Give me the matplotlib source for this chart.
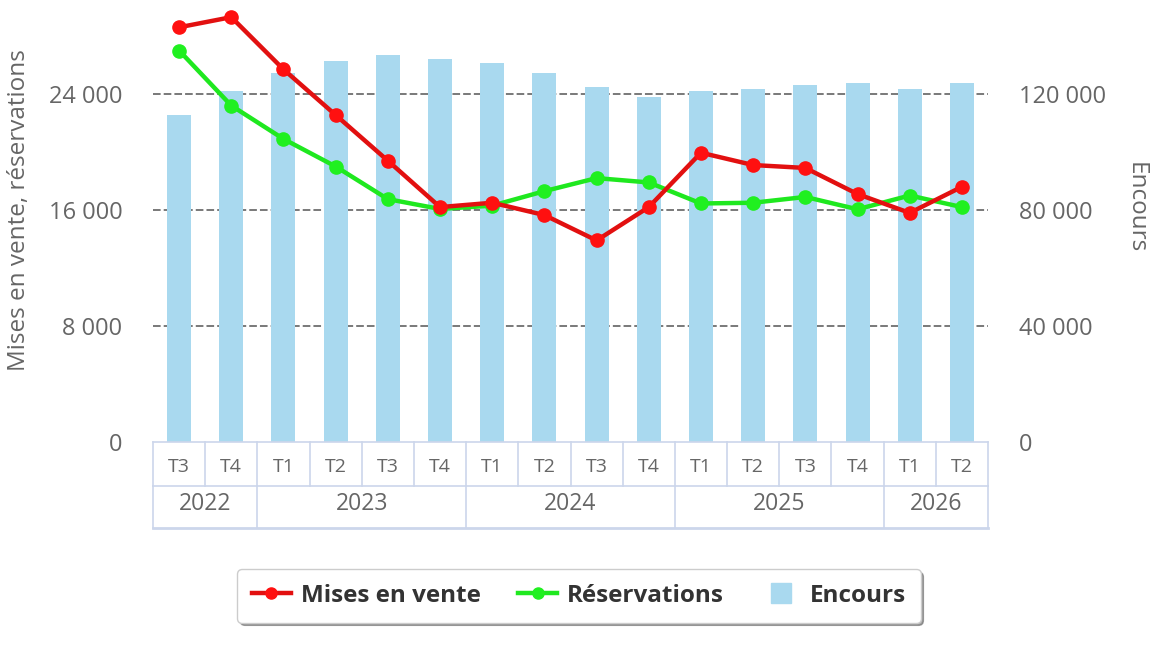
import matplotlib.pyplot as plt
from matplotlib.lines import Line2D
from matplotlib.ticker import FuncFormatter

plt.rcParams['font.family'] = ['Open Sans', 'DejaVu Sans']

quarters = ["T3", "T4", "T1", "T2", "T3", "T4", "T1", "T2", "T3", "T4",
            "T1", "T2", "T3", "T4", "T1", "T2"]
years = ["2022", "2023", "2024", "2025", "2026"]
year_sizes = [2, 4, 4, 4, 2]

mises_en_vente = [28600, 29300, 25700, 22550, 19400, 16200, 16500, 15650,
                  13900, 16200, 19950, 19100, 18900, 17100, 15800, 17600]
reservations = [27000, 23200, 20900, 19000, 16750, 16070, 16300, 17300,
                18200, 17900, 16450, 16500, 16900, 16050, 17000, 16200]
encours = [112800, 121100, 127200, 131400, 133400, 132100, 130700, 127200,
           122300, 118900, 121000, 121700, 123100, 123800, 121700, 123800]

RED = "#e21010"
GREEN = "#1fe81f"
BLUE = "#a9d9ef"
GRAY = "#666666"
BOXLINE = "#ccd6eb"


def fmt(v, pos):
    return f"{int(v):,}".replace(",", " ")


fig = plt.figure(figsize=(11.52, 6.47), dpi=100)
ax = fig.add_axes([153 / 1152, 1 - 442 / 647, 835 / 1152, 435 / 647])
ax2 = ax.twinx()
ax.set_zorder(ax2.get_zorder() + 1)
ax.patch.set_visible(False)

x = list(range(len(quarters)))

# barres (axe droit), grille derriere
ax2.bar(x, encours, width=0.46, color=BLUE, zorder=2)
ax2.set_ylim(0, 150000)
ax2.set_yticks([0, 40000, 80000, 120000])
ax2.yaxis.set_major_formatter(FuncFormatter(fmt))
for v in [40000, 80000, 120000]:
    ax2.axhline(v, color="#555555", lw=1.1, dashes=(5, 2), zorder=1)

# courbes (axe gauche)
ax.plot(x, mises_en_vente, color=RED, lw=3.2, marker="o", ms=9.5,
        markerfacecolor="#ff1010", markeredgecolor="#ff1010", zorder=4)
ax.plot(x, reservations, color=GREEN, lw=3.2, marker="o", ms=9.5,
        markerfacecolor="#20f020", markeredgecolor="#20f020", zorder=3)
ax.set_ylim(0, 30000)
ax.set_yticks([0, 8000, 16000, 24000])
ax.yaxis.set_major_formatter(FuncFormatter(fmt))

for a in (ax, ax2):
    a.set_xlim(-0.5, len(quarters) - 0.5)
    a.set_xticks([])
    for s in a.spines.values():
        s.set_visible(False)
    a.tick_params(axis="y", length=0, labelsize=17, labelcolor=GRAY)
ax.tick_params(axis="y", pad=22)
ax2.tick_params(axis="y", pad=22)

fig.text(19 / 1152, 1 - 210 / 647, "Mises en vente, réservations",
         rotation=90, ha="center", va="center", fontsize=17.5, color=GRAY)
fig.text(1136 / 1152, 1 - 208 / 647, "Encours",
         rotation=270, ha="center", va="center", fontsize=17.5, color=GRAY)

# axe des categories a deux niveaux
axc = fig.add_axes([153 / 1152, 1 - 528 / 647, 835 / 1152, 86 / 647])
axc.set_xlim(-0.5, len(quarters) - 0.5)
axc.set_ylim(0, 86)
axc.axis("off")
lw = 1.2
axc.plot([-0.5, 15.5], [86, 86], color=BOXLINE, lw=lw, clip_on=False)
axc.plot([-0.5, 15.5], [42, 42], color=BOXLINE, lw=lw, clip_on=False)
axc.plot([-0.5, 15.5], [0, 0], color=BOXLINE, lw=2, clip_on=False)
for i in range(len(quarters) + 1):
    axc.plot([i - 0.5, i - 0.5], [42, 86], color=BOXLINE, lw=lw, clip_on=False)
for i, q in enumerate(quarters):
    axc.text(i, 61, q, ha="center", va="center", fontsize=14, color=GRAY)
start = 0
for yr, n in zip(years, year_sizes):
    axc.plot([start - 0.5, start - 0.5], [0, 42], color=BOXLINE, lw=lw, clip_on=False)
    axc.text(start + n / 2 - 0.5, 24, yr, ha="center", va="center",
             fontsize=16.5, color=GRAY)
    start += n
axc.plot([start - 0.5, start - 0.5], [0, 42], color=BOXLINE, lw=lw, clip_on=False)

handles = [
    Line2D([], [], color=RED, lw=3.2, marker="o", ms=8, markerfacecolor="#ff1010",
           markeredgecolor="#ff1010"),
    Line2D([], [], color=GREEN, lw=3.2, marker="o", ms=8, markerfacecolor="#20f020",
           markeredgecolor="#20f020"),
    Line2D([], [], ls="none", marker="s", ms=15, markerfacecolor=BLUE,
           markeredgecolor=BLUE),
]
leg = fig.legend(handles, ["Mises en vente", "Réservations", "Encours"],
                 loc="center", bbox_to_anchor=(579 / 1152, 1 - 596 / 647),
                 ncol=3, frameon=True, fancybox=True, shadow=True,
                 prop={"weight": "bold", "size": 17.5}, handlelength=1.6,
                 columnspacing=1.55, borderpad=0.6, handletextpad=0.4)
leg.get_frame().set_edgecolor("#cccccc")
for t in leg.get_texts():
    t.set_color("#333333")

fig.savefig("out.png", dpi=100)
